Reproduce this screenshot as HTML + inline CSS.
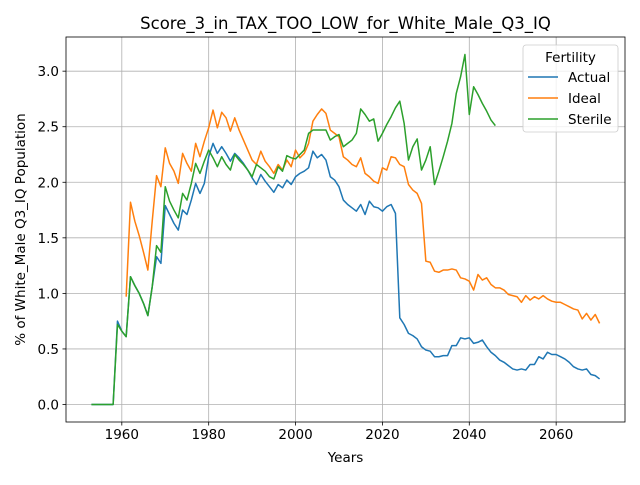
<!DOCTYPE html>
<html><head><meta charset="utf-8"><style>
body{margin:0;background:#fff;}
svg text{font-family:"DejaVu Sans","Liberation Sans",sans-serif;}
</style></head><body>
<svg id="chart" width="640" height="480" xmlns="http://www.w3.org/2000/svg"></svg>
<script>
const startYear = 1953;
const actualValues = [0,0,0,0,0,0,0.75,0.66,0.61,1.15,1.07,1.0,0.91,0.80,1.06,1.33,1.27,1.79,1.71,1.63,1.57,1.75,1.71,1.84,1.99,1.90,1.99,2.23,2.35,2.26,2.32,2.26,2.19,2.26,2.22,2.17,2.11,2.04,1.98,2.07,2.01,1.96,1.91,1.98,1.95,2.02,1.98,2.05,2.08,2.10,2.13,2.28,2.22,2.25,2.20,2.05,2.02,1.96,1.84,1.80,1.77,1.74,1.80,1.71,1.83,1.78,1.77,1.74,1.78,1.80,1.72,0.78,0.72,0.64,0.62,0.59,0.52,0.49,0.48,0.43,0.43,0.44,0.44,0.53,0.53,0.60,0.59,0.60,0.55,0.56,0.58,0.52,0.47,0.44,0.40,0.38,0.35,0.32,0.31,0.32,0.31,0.36,0.36,0.43,0.41,0.47,0.45,0.45,0.43,0.41,0.38,0.34,0.32,0.31,0.32,0.27,0.26,0.23];
const idealStart = 1961;
const idealValues = [0.97,1.82,1.65,1.52,1.37,1.21,1.65,2.06,1.96,2.31,2.17,2.10,1.99,2.26,2.17,2.10,2.35,2.23,2.37,2.49,2.65,2.49,2.63,2.58,2.46,2.58,2.47,2.38,2.29,2.20,2.16,2.28,2.19,2.14,2.08,2.16,2.11,2.20,2.14,2.29,2.22,2.26,2.35,2.55,2.61,2.66,2.62,2.47,2.44,2.41,2.23,2.20,2.16,2.14,2.22,2.08,2.05,2.01,1.99,2.13,2.11,2.23,2.22,2.16,2.14,1.98,1.93,1.90,1.81,1.29,1.28,1.20,1.19,1.21,1.21,1.22,1.21,1.14,1.13,1.11,1.03,1.17,1.12,1.14,1.08,1.05,1.05,1.03,0.99,0.98,0.97,0.92,0.98,0.94,0.97,0.95,0.98,0.95,0.93,0.92,0.92,0.90,0.88,0.86,0.85,0.77,0.82,0.76,0.81,0.73];
const sterileValues = [0,0,0,0,0,0,0.72,0.66,0.61,1.15,1.07,1.0,0.91,0.80,1.06,1.43,1.37,1.96,1.83,1.75,1.68,1.90,1.84,1.99,2.17,2.08,2.19,2.29,2.22,2.14,2.23,2.16,2.11,2.25,2.20,2.16,2.11,2.05,2.16,2.13,2.10,2.05,2.03,2.14,2.10,2.24,2.22,2.21,2.25,2.29,2.44,2.47,2.47,2.47,2.47,2.38,2.41,2.43,2.32,2.35,2.38,2.44,2.66,2.61,2.55,2.57,2.37,2.44,2.52,2.59,2.67,2.73,2.53,2.20,2.32,2.39,2.11,2.20,2.32,1.98,2.10,2.23,2.37,2.53,2.80,2.95,3.15,2.61,2.86,2.79,2.71,2.64,2.56,2.51];
const xTicks = [1960,1980,2000,2020,2040,2060];
const yTicks = [0.0,0.5,1.0,1.5,2.0,2.5,3.0];

const L=66,R=625,T=37,B=422;
const xMin=1947.15,xMax=2075.85,yMin=-0.1575,yMax=3.3075;
const xs=v=>L+(v-xMin)/(xMax-xMin)*(R-L);
const ys=v=>B-(v-yMin)/(yMax-yMin)*(B-T);
const svg=document.getElementById('chart');
const NS='http://www.w3.org/2000/svg';
function mk(tag,attrs,parent){const e=document.createElementNS(NS,tag);for(const k in attrs)e.setAttribute(k,attrs[k]);(parent||svg).appendChild(e);return e;}

xTicks.forEach(t=>{
  const g=mk('line',{x1:xs(t),x2:xs(t),y1:T,y2:B,stroke:'#b0b0b0','stroke-width':0.8});
  
  
  mk('line',{x1:xs(t),x2:xs(t),y1:B,y2:B+3.5,stroke:'#000','stroke-width':0.8});
  const tx=mk('text',{x:xs(t),y:B+17,'text-anchor':'middle','font-size':13.5});
  tx.textContent=t;
  
  
});
yTicks.forEach(t=>{
  const g=mk('line',{x1:L,x2:R,y1:ys(t),y2:ys(t),stroke:'#b0b0b0','stroke-width':0.8});
  
  
  mk('line',{x1:L-3.5,x2:L,y1:ys(t),y2:ys(t),stroke:'#000','stroke-width':0.8});
  const tx=mk('text',{x:L-7,y:ys(t)+5,'text-anchor':'end','font-size':13.5});
  tx.textContent=t.toFixed(1);
  
  
});

function series(vals,start,color,name){
  const pts=vals.map((v,i)=>xs(start+i).toFixed(2)+','+ys(v).toFixed(2)).join(' ');
  const p=mk('polyline',{points:pts,fill:'none',stroke:color,'stroke-width':1.5,'stroke-linejoin':'round'});
  
  
}
series(actualValues,startYear,'#1f77b4','actual-line');
series(idealValues,idealStart,'#ff7f0e','ideal-line');
series(sterileValues,startYear,'#2ca02c','sterile-line');

const frame=mk('rect',{x:L,y:T,width:R-L,height:B-T,fill:'none',stroke:'#000','stroke-width':0.8});



const title=mk('text',{x:(L+R)/2,y:29,'text-anchor':'middle','font-size':16.5});
title.textContent='Score_3_in_TAX_TOO_LOW_for_White_Male_Q3_IQ';


const xl=mk('text',{x:(L+R)/2,y:462,'text-anchor':'middle','font-size':13.5});
xl.textContent='Years';


const yl=mk('text',{x:0,y:0,'text-anchor':'middle','font-size':13.5,transform:'translate(25,'+((T+B)/2)+') rotate(-90)'});
yl.textContent='% of White_Male Q3_IQ Population';



const lg=mk('g',{});


mk('rect',{x:523,y:45,width:95,height:87,rx:3,fill:'#fff','fill-opacity':0.8,stroke:'#ccc','stroke-width':0.8},lg);
const lt=mk('text',{x:570.5,y:62,'text-anchor':'middle','font-size':13.5},lg);
lt.textContent='Fertility';
[['Actual','#1f77b4'],['Ideal','#ff7f0e'],['Sterile','#2ca02c']].forEach((e,i)=>{
  const y=77+i*21;
  const ln=mk('line',{x1:528,x2:558,y1:y,y2:y,stroke:e[1],'stroke-width':1.5},lg);
  
  
  const t=mk('text',{x:568,y:y+5,'font-size':13.5},lg);
  t.textContent=e[0];
  
  
});
</script>
</body></html>
